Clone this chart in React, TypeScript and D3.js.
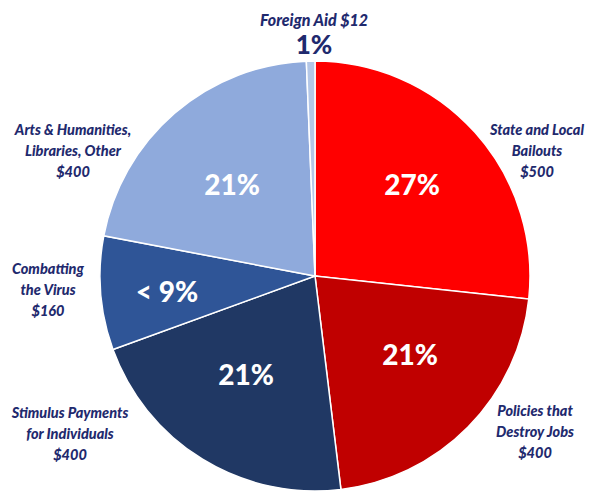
import React from "react";
import * as d3 from "d3";

const categories = [
  "State and Local Bailouts",
  "Policies that Destroy Jobs",
  "Stimulus Payments for Individuals",
  "Combatting the Virus",
  "Arts & Humanities, Libraries, Other",
  "Foreign Aid",
];
const values = [500, 400, 400, 160, 400, 12];
const pctLabels = ["27%", "21%", "21%", "< 9%", "21%", "1%"];
const colors = ["#FF0000", "#C00000", "#203864", "#2F5597", "#8FAADC", "#B4C7E7"];
const labelLines = [
  ["State and Local", "Bailouts", "$500"],
  ["Policies that", "Destroy Jobs", "$400"],
  ["Stimulus Payments", "for Individuals", "$400"],
  ["Combatting", "the Virus", "$160"],
  ["Arts & Humanities,", "Libraries, Other", "$400"],
  ["Foreign Aid $12"],
];

const W = 590, H = 491;
const cx = 315, cy = 276, R = 215;
const textColor = "#1F2A6E";
const font = "Lato, 'Open Sans', sans-serif";

// label anchor positions (center x, first-line y) per category
const labelPos = [
  [537, 135],
  [535, 416],
  [70, 418],
  [48, 274],
  [73, 135],
  [314, 26],
];
const pctPos = [
  [412, 195],
  [410, 365],
  [246, 385],
  [167, 302],
  [232, 195],
  [314, 54],
];

export default function App() {
  const pie = d3.pie<number>().sort(null).value((d) => d);
  const arcs = pie(values);
  const arc = d3.arc<d3.PieArcDatum<number>>().innerRadius(0).outerRadius(R);
  return (
    <svg width={W} height={H} style={{ display: "block", position: "absolute", left: 0, top: 0 }}>
      <rect width={W} height={H} fill="#fff" />
      <g transform={`translate(${cx},${cy})`}>
        {arcs.map((a, i) => (
          <path key={i} d={arc(a) || ""} fill={colors[i]} stroke="#fff" strokeWidth={1.5} />
        ))}
      </g>
      {arcs.map((a, i) => (
        <text
          key={"p" + i}
          x={pctPos[i][0]}
          y={pctPos[i][1]}
          textAnchor="middle"
          fontFamily={font}
          fontWeight={900}
          fontSize={i === 5 ? 26 : 28}
          fill={i === 5 ? textColor : "#fff"}
        >
          {pctLabels[i]}
        </text>
      ))}
      {labelLines.map((lines, i) => (
        <text
          key={"l" + i}
          textAnchor="middle"
          fontFamily={font}
          fontWeight={900}
          fontStyle="italic"
          fontSize={i === 5 ? 16 : 14.5}
          fill={textColor}
        >
          {lines.map((t, j) => (
            <tspan key={j} x={labelPos[i][0]} y={labelPos[i][1] + j * 21}>
              {t}
            </tspan>
          ))}
        </text>
      ))}
    </svg>
  );
}
